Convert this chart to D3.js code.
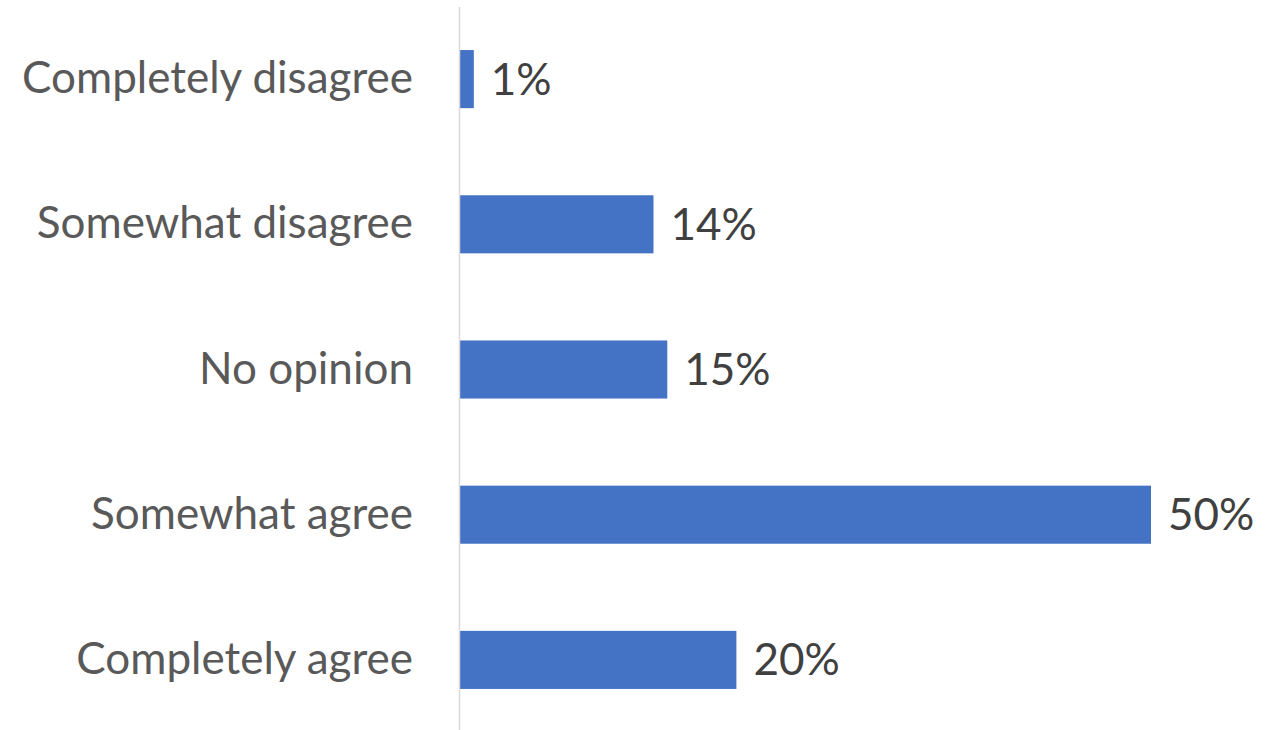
<!DOCTYPE html>
<html>
<head>
<meta charset="utf-8">
<script src="https://cdn.jsdelivr.net/npm/d3@7"></script>
<style>
  html, body { margin: 0; padding: 0; background: #ffffff; }
  svg { display: block; }
</style>
</head>
<body>
<svg id="chart" width="1270" height="730"></svg>
<script>
// Survey responses, top to bottom
const categories = [
  "Completely disagree",
  "Somewhat disagree",
  "No opinion",
  "Somewhat agree",
  "Completely agree"
];
const shares = [1, 14, 15, 50, 20];
const valueLabels = ["1%", "14%", "15%", "50%", "20%"];

const svg = d3.select("#chart");
const axisX = 460;

const x = d3.scaleLinear().domain([0, 50]).range([axisX, 1151]);
const y = d3.scaleBand().domain(categories).range([6.5, 732.5]).paddingInner(0.6).paddingOuter(0.3);

const fontFamily = "Lato, 'Open Sans', sans-serif";
const fontSize = "44px";

// bars
svg.selectAll("rect.bar")
  .data(categories)
  .join("rect")
  .attr("class", "bar")
  .attr("x", x(0))
  .attr("y", d => y(d))
  .attr("width", (d, i) => x(shares[i]) - x(0))
  .attr("height", y.bandwidth())
  .attr("fill", "#4472C4");

// category axis on the left
const axis = d3.axisLeft(y).tickSize(0).tickPadding(47);
const gAxis = svg.append("g")
  .attr("transform", `translate(${axisX},0)`)
  .call(axis);
gAxis.select(".domain").remove();
gAxis.selectAll("text")
  .attr("fill", "#595959")
  .style("font-family", fontFamily)
  .style("font-size", fontSize);

svg.append("line")
  .attr("x1", axisX - 0.5).attr("x2", axisX - 0.5)
  .attr("y1", 7).attr("y2", 730)
  .attr("stroke", "#D9D9D9")
  .attr("stroke-width", 1.5);

// value labels
svg.selectAll("text.val")
  .data(categories)
  .join("text")
  .attr("class", "val")
  .attr("x", (d, i) => x(shares[i]) + 17)
  .attr("y", d => y(d) + y.bandwidth() / 2)
  .attr("dy", "0.35em")
  .attr("fill", "#404040")
  .style("font-family", fontFamily)
  .style("font-size", fontSize)
  .text((d, i) => valueLabels[i]);
</script>
</body>
</html>
